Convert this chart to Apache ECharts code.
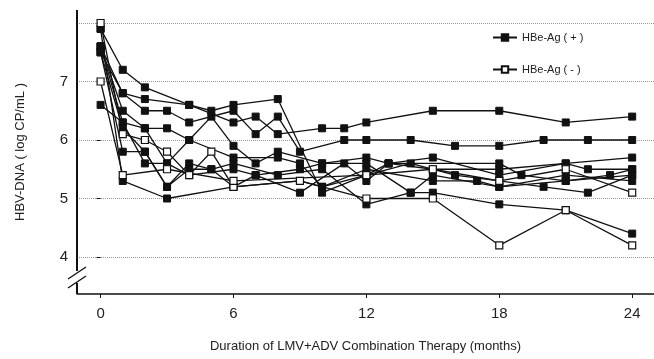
<!DOCTYPE html>
<html>
<head>
<meta charset="utf-8">
<script src="https://cdn.jsdelivr.net/npm/echarts@6/dist/echarts.min.js"></script>
<style>
html,body{margin:0;padding:0;background:#fff;}
#chart{width:654px;height:359px;}
</style>
</head>
<body>
<div id="chart"></div>
<script>
// months 0..24
var months = [0,1,2,3,4,5,6,7,8,9,10,11,12,13,14,15,16,17,18,19,20,21,22,23,24];
var xTicks = [0,6,12,18,24];
var yTicks = [4,5,6,7,8];
var yLabels = [4,5,6,7];
var posName = 'HBe-Ag ( + )';
var negName = 'HBe-Ag ( - )';

// HBe-Ag positive patients (filled squares), value by month, null = not measured
var P1 = [7.9,7.2,6.9,null,6.6,6.5,6.6,null,6.7,null,5.1,null,5.4,5.6,null,5.5,null,null,5.5,null,null,5.6,null,null,5.7];
var P2 = [7.6,6.8,6.7,null,6.6,null,6.3,6.4,6.1,null,6.2,6.2,6.3,null,null,6.5,null,null,6.5,null,null,6.3,null,null,6.4];
var P3 = [7.5,6.8,6.5,6.5,6.3,null,6.5,6.1,6.4,5.8,null,6.0,6.0,null,6.0,null,5.9,null,5.9,null,6.0,null,6.0,null,6.0];
var P4 = [7.6,6.5,6.2,6.2,6.0,6.4,5.9,5.6,5.8,null,5.6,null,5.7,5.6,null,5.7,null,null,5.4,null,null,5.6,5.5,null,5.5];
var P5 = [6.6,6.3,6.2,5.6,6.0,null,5.7,null,5.7,5.6,5.2,null,5.4,null,5.6,null,5.4,null,5.3,null,5.2,null,5.1,null,5.4];
var P6 = [7.5,5.8,5.8,5.2,5.6,5.5,5.6,null,5.4,null,5.5,null,4.9,null,5.1,5.1,null,null,4.9,null,null,4.8,null,null,4.4];
var P7 = [7.9,5.3,null,5.0,null,null,5.2,null,null,5.3,5.2,null,5.5,null,null,5.3,null,5.3,5.2,null,null,5.3,null,null,5.4];
var P8 = [7.6,6.3,5.6,5.6,5.4,null,5.5,5.4,null,5.5,5.6,null,5.6,null,5.1,5.4,null,null,5.2,null,null,5.4,null,null,5.3];
var P9 = [7.5,6.2,5.8,5.2,5.5,5.5,5.2,5.4,null,5.1,null,5.6,5.3,5.6,null,null,null,null,5.6,5.4,null,5.3,null,5.4,5.5];
// HBe-Ag negative patients (open squares)
var N1 = [8.0,6.1,6.0,5.8,5.4,5.8,5.2,null,null,5.3,null,null,5.0,null,null,5.0,null,null,4.2,null,null,4.8,null,null,4.2];
var N2 = [7.0,5.4,null,5.5,null,null,5.3,null,null,null,null,null,5.4,null,null,5.5,null,null,5.3,null,null,5.5,null,null,5.1];

var positives = [P1,P2,P3,P4,P5,P6,P7,P8,P9];
var negatives = [N1,N2];

function pairs(vals){
  var out = [];
  for (var i = 0; i < months.length; i++) {
    if (vals[i] !== null) out.push([months[i], vals[i]]);
  }
  return out;
}

var series = [];
positives.forEach(function(v){
  series.push({
    name: posName, type: 'line', data: pairs(v),
    symbol: 'rect', symbolSize: 7,
    lineStyle: {color: '#111', width: 1.3},
    itemStyle: {color: '#111', borderColor: '#111', borderWidth: 1},
    z: 2
  });
});
negatives.forEach(function(v){
  series.push({
    name: negName, type: 'line', data: pairs(v),
    symbol: 'rect', symbolSize: 7,
    lineStyle: {color: '#111', width: 1.3},
    itemStyle: {color: '#fff', borderColor: '#111', borderWidth: 1.2},
    z: 3
  });
});

var chart = echarts.init(document.getElementById('chart'), null, {renderer: 'canvas'});
chart.setOption({
  animation: false,
  backgroundColor: '#fff',
  grid: {left: 77, right: 0, top: 10, bottom: 65},
  legend: {
    data: [posName, negName],
    orient: 'vertical', left: 492, top: 32,
    itemWidth: 24, itemHeight: 8, itemGap: 21, padding: 0,
    textStyle: {fontFamily: 'Liberation Sans', fontSize: 11, color: '#222'}
  },
  xAxis: {
    type: 'value', min: -1.065, max: 24.985,
    name: 'Duration of LMV+ADV Combination Therapy (months)',
    nameLocation: 'middle', nameGap: 46,
    nameTextStyle: {fontFamily: 'Liberation Sans', fontSize: 13, color: '#222'},
    axisLine: {show: true, onZero: false, lineStyle: {color: '#111', width: 1.5}},
    axisTick: {show: true, length: 4, customValues: xTicks, lineStyle: {color: '#111'}},
    axisLabel: {customValues: xTicks, fontFamily: 'Liberation Sans', fontSize: 15, color: '#222', margin: 12},
    splitLine: {show: false}
  },
  yAxis: {
    type: 'value', min: 3.368, max: 8.222,
    name: 'HBV-DNA ( log CP/mL )',
    nameLocation: 'middle', nameGap: 50,
    nameTextStyle: {fontFamily: 'Liberation Sans', fontSize: 13, color: '#222'},
    axisLine: {show: false},
    axisTick: {show: true, length: 4, customValues: yTicks, lineStyle: {color: '#111'}},
    axisLabel: {customValues: yLabels, fontFamily: 'Liberation Sans', fontSize: 15, color: '#222', margin: 9},
    splitLine: {show: true, customValues: yTicks, lineStyle: {color: '#999', type: 'dotted', width: 1}}
  },
  graphic: [
    {type: 'rect', left: 76, top: 10, shape: {x: 0, y: 0, width: 2, height: 261}, style: {fill: '#111'}, z: 99},
    {type: 'rect', left: 76, top: 283, shape: {x: 0, y: 0, width: 2, height: 11}, style: {fill: '#111'}, z: 99},
    {type: 'line', shape: {x1: 68, y1: 279, x2: 86, y2: 267}, style: {stroke: '#111', lineWidth: 1.3}, z: 101},
    {type: 'line', shape: {x1: 68, y1: 288, x2: 86, y2: 276}, style: {stroke: '#111', lineWidth: 1.3}, z: 101}
  ],
  series: series
});
</script>
</body>
</html>
